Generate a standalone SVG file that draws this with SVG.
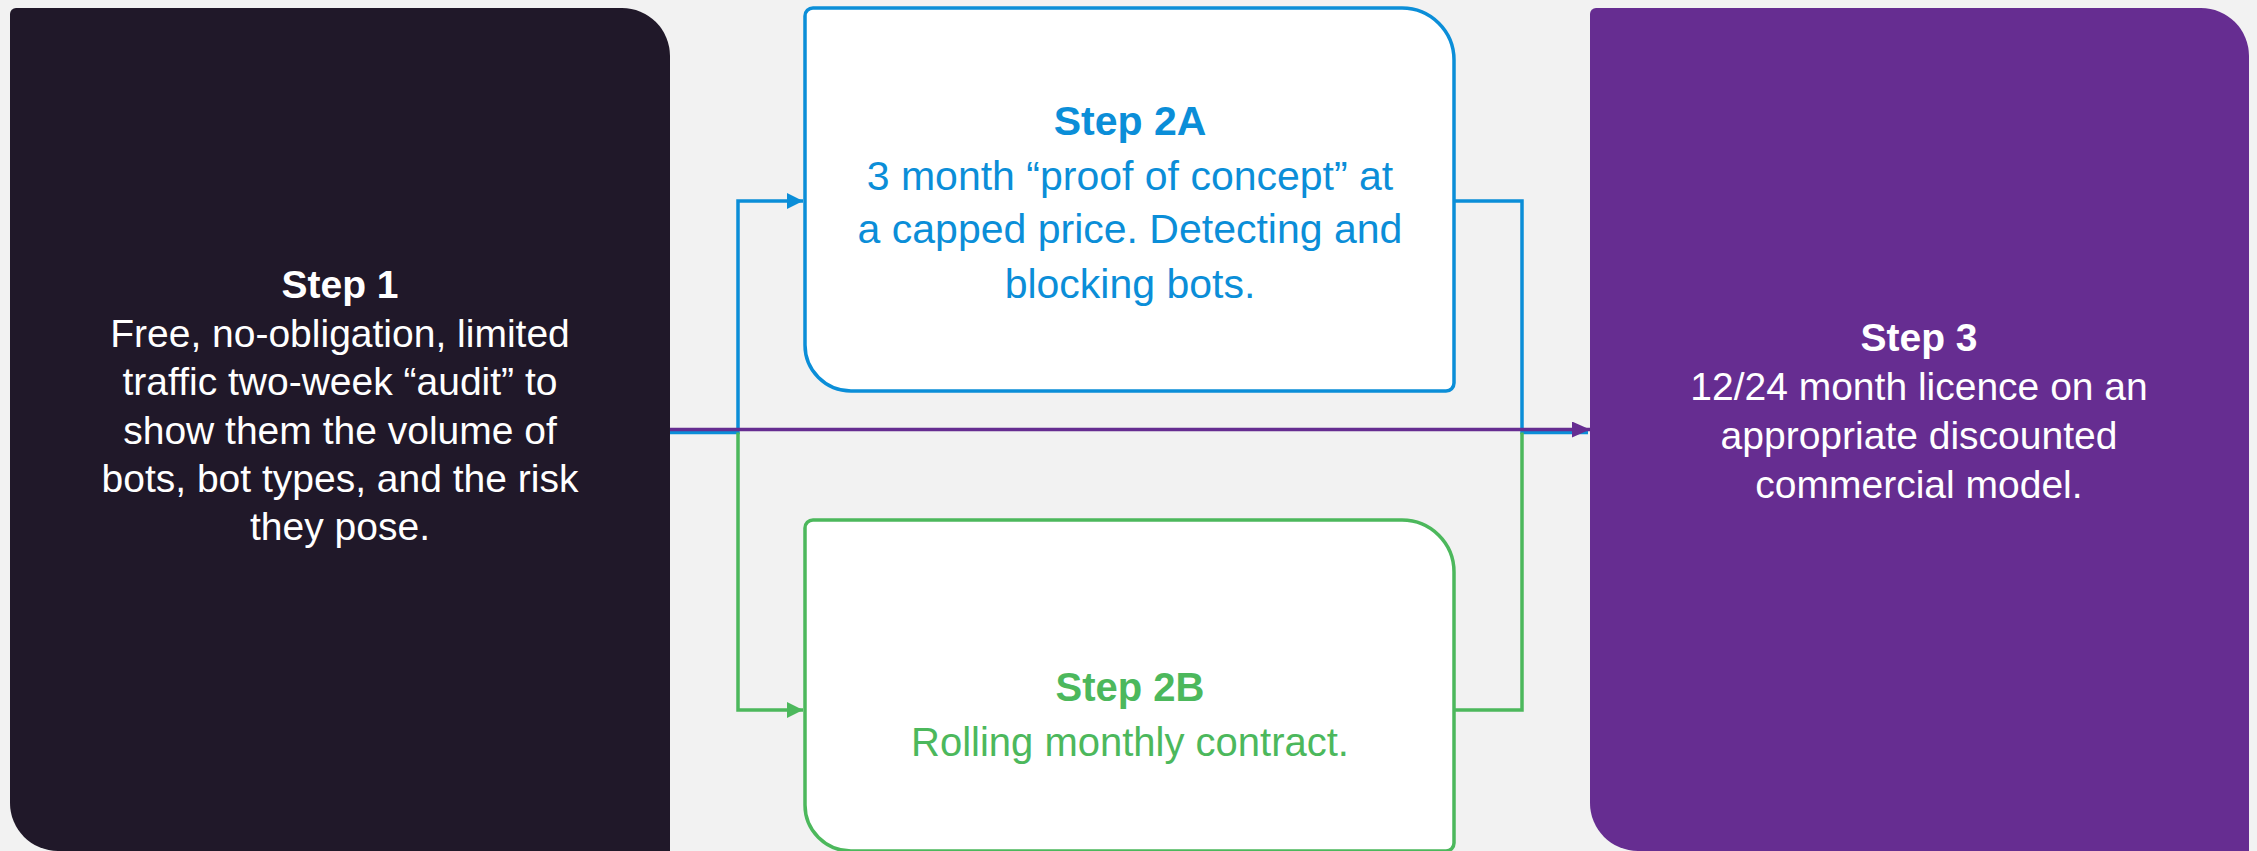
<svg xmlns="http://www.w3.org/2000/svg" width="2257" height="851" viewBox="0 0 2257 851">
<style>
text{font-family:"Liberation Sans",Arial,sans-serif;text-anchor:middle}
.b{font-weight:bold}
.w{fill:#ffffff;font-size:39px}
.bl{fill:#0b8ed8;font-size:41px}
.gr{fill:#4cb85c;font-size:40px}
.c{fill:none;stroke-width:3.5}
</style>
<defs>
<marker id="aB" markerUnits="userSpaceOnUse" markerWidth="18" markerHeight="18" refX="16" refY="8" orient="auto"><path d="M0,0 L16,8 L0,16 Z" fill="#0b8ed8"/></marker>
<marker id="aG" markerUnits="userSpaceOnUse" markerWidth="18" markerHeight="18" refX="16" refY="8" orient="auto"><path d="M0,0 L16,8 L0,16 Z" fill="#4cb85c"/></marker>
<marker id="aP" markerUnits="userSpaceOnUse" markerWidth="20" markerHeight="18" refX="18" refY="8" orient="auto"><path d="M0,0 L18,8 L0,16 Z" fill="#662d91"/></marker>
</defs>
<rect width="2257" height="851" fill="#f2f2f2"/>
<g id="connectors">
<path class="c" stroke="#0b8ed8" d="M670,432.5 H738 V201 H803" marker-end="url(#aB)"/>
<path class="c" stroke="#4cb85c" d="M738,432.5 V710 H803" marker-end="url(#aG)"/>
<path class="c" stroke="#0b8ed8" d="M1454,201 H1522 V432.5 H1588"/>
<path class="c" stroke="#4cb85c" d="M1454,710 H1522 V432.5"/>
<path class="c" stroke="#662d91" d="M670,429.5 H1590" marker-end="url(#aP)"/>
</g>
<g id="step1">
<path d="M16,8 H622 A48,48 0 0 1 670,56 V851 H58 A48,48 0 0 1 10,803 V14 A6,6 0 0 1 16,8 Z" fill="#201829"/>
<text class="w b" x="340" y="298">Step 1</text>
<text class="w" x="340" y="347">Free, no-obligation, limited</text>
<text class="w" x="340" y="395">traffic two-week “audit” to</text>
<text class="w" x="340" y="444">show them the volume of</text>
<text class="w" x="340" y="492">bots, bot types, and the risk</text>
<text class="w" x="340" y="540">they pose.</text>
</g>
<g id="step2a">
<path d="M813,8 H1402 A52,52 0 0 1 1454,60 V383 A8,8 0 0 1 1446,391 H851 A46,46 0 0 1 805,345 V16 A8,8 0 0 1 813,8 Z" fill="#ffffff" stroke="#0b8ed8" stroke-width="3.5"/>
<text class="bl b" x="1130" y="135">Step 2A</text>
<text class="bl" x="1130" y="190">3 month “proof of concept” at</text>
<text class="bl" x="1130" y="243">a capped price. Detecting and</text>
<text class="bl" x="1130" y="298">blocking bots.</text>
</g>
<g id="step2b">
<path d="M813,520 H1402 A52,52 0 0 1 1454,572 V843 A8,8 0 0 1 1446,851 H851 A46,46 0 0 1 805,805 V528 A8,8 0 0 1 813,520 Z" fill="#ffffff" stroke="#4cb85c" stroke-width="3.5"/>
<text class="gr b" x="1130" y="701">Step 2B</text>
<text class="gr" x="1130" y="756">Rolling monthly contract.</text>
</g>
<g id="step3">
<path d="M1596,8 H2201 A48,48 0 0 1 2249,56 V851 H1638 A48,48 0 0 1 1590,803 V14 A6,6 0 0 1 1596,8 Z" fill="#662d91"/>
<text class="w b" x="1919" y="351">Step 3</text>
<text class="w" x="1919" y="400">12/24 month licence on an</text>
<text class="w" x="1919" y="449">appropriate discounted</text>
<text class="w" x="1919" y="498">commercial model.</text>
</g>
</svg>
